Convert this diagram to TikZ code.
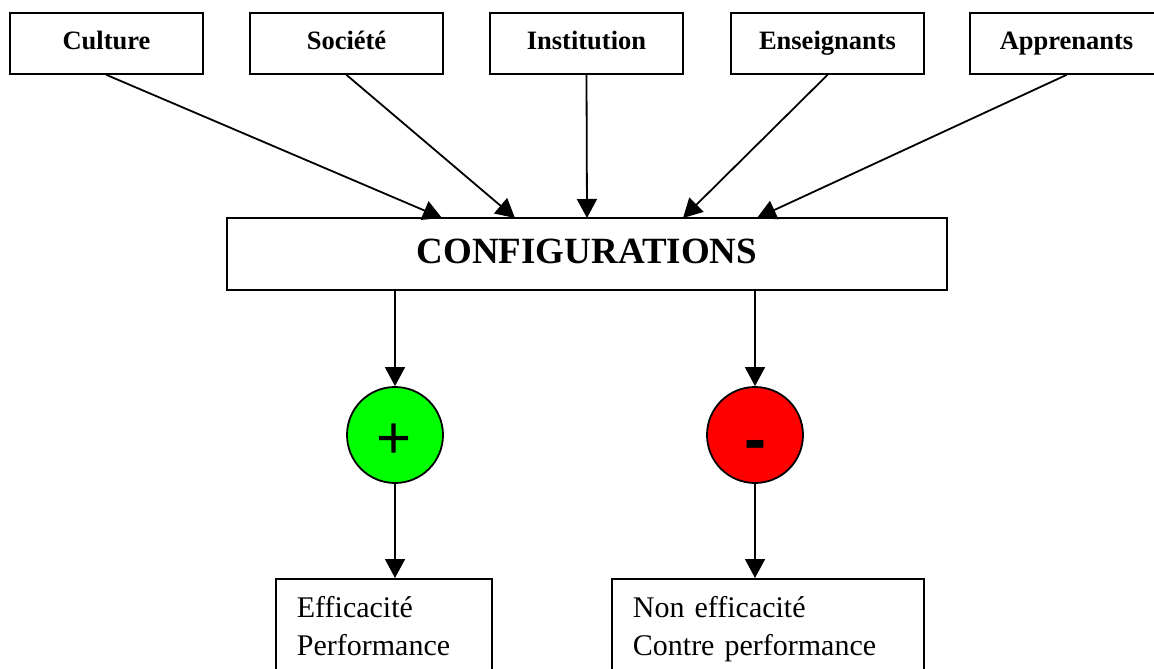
\documentclass[tikz,border=0pt]{standalone}
\usepackage{fontspec}
\setmainfont{Liberation Serif}
\newfontfamily\arialfont{Liberation Sans}
\usetikzlibrary{arrows.meta}
\definecolor{pgreen}{RGB}{0,255,0}
\definecolor{pred}{RGB}{255,0,0}
\begin{document}
\begin{tikzpicture}[x=1pt,y=-1pt,line width=1.8pt,
  topbox/.style={draw,minimum width=193pt,minimum height=61pt,inner sep=0pt,
    text height=19pt,text depth=6pt,
    font=\fontsize{26.5}{30}\selectfont\bfseries},
  confbox/.style={draw,minimum width=720pt,minimum height=72pt,inner sep=0pt,
    text height=27pt,text depth=9pt,
    font=\fontsize{37}{40}\selectfont\bfseries},
  signcirc/.style={circle,draw,minimum size=96pt,inner sep=0pt},
  outbox/.style={draw,anchor=north west,inner xsep=21pt,inner ysep=0pt,align=left,
    font=\fontsize{30}{38}\selectfont},
  arr/.style={-{Triangle[width=20pt,length=19pt]}}]
\useasboundingbox (0,0) rectangle (1154,669);
\clip (0,0) rectangle (1154,669);
\fill[white] (0,0) rectangle (1154,669);

\node[topbox] (cult) at (106.5,43.5) {Culture};
\node[topbox] (soc)  at (346.5,43.5) {Société};
\node[topbox] (inst) at (586.5,43.5) {Institution};
\node[topbox] (ens)  at (827.5,43.5) {Enseignants};
\node[topbox] (app)  at (1066.5,43.5) {Apprenants};

\node[confbox] (conf) at (587,254) {CONFIGURATIONS};

\coordinate (c1) at (442,218);
\coordinate (c2) at (515,218);
\coordinate (c3) at (587,218);
\coordinate (c4) at (683,218);
\coordinate (c5) at (757,218);

\draw[arr] (cult.south) -- (c1);
\draw[arr] (soc.south) -- (c2);
\draw[arr] (inst.south) -- (c3);
\draw[arr] (ens.south) -- (c4);
\draw[arr] (app.south) -- (c5);

\node[signcirc,fill=pgreen] (plus) at (395,435) {};
\node[signcirc,fill=pred] (minus) at (755,435) {};
\node[inner sep=0pt,font=\arialfont\fontsize{60}{60}\selectfont] (plussign) at (394,441) {+};
\node[inner sep=0pt,font=\arialfont\bfseries\fontsize{66}{66}\selectfont] (minussign) at (755,451) {-};

\node[outbox,text width=174pt,minimum height=95pt] (eff) at (275,578) {Efficacité\\Performance};
\node[outbox,text width=270pt,minimum height=101pt] (neff) at (611,578) {Non efficacité\\Contre performance};

\draw[arr] (plus |- conf.south) -- (plus.north);
\draw[arr] (minus |- conf.south) -- (minus.north);
\draw[arr] (plus.south) -- (plus.south |- eff.north);
\draw[arr] (minus.south) -- (minus.south |- neff.north);
\end{tikzpicture}
\end{document}
